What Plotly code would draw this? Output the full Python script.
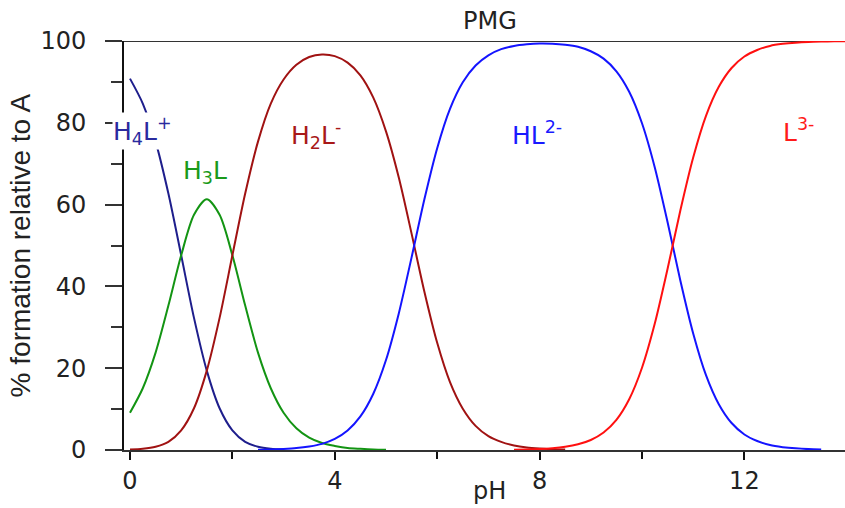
import plotly.graph_objects as go

# ---- data (pH vs % formation) ----
ph_h4l = [0, 0.25, 0.5, 0.75, 1.0, 1.25, 1.5, 1.75, 2.0, 2.25, 2.5, 2.75, 3.0]
h4l = [90.8, 84.7, 75.4, 62.7, 47.6, 32.3, 19.4, 10.2, 4.8, 2.0, 0.8, 0.3, 0.1]

ph_h3l = [0, 0.25, 0.5, 0.75, 1.0, 1.25, 1.5, 1.75, 2.0, 2.25, 2.5, 2.75, 3.0,
          3.25, 3.5, 3.75, 4.0, 4.25, 4.5, 4.75, 5.0]
h3l = [9.1, 15.1, 23.8, 35.3, 47.6, 57.5, 61.3, 57.5, 47.6, 35.3, 23.8, 15.1, 9.1,
       5.3, 3.0, 1.7, 1.0, 0.5, 0.3, 0.15, 0.08]

ph_h2l = [0, 0.25, 0.5, 0.75, 1.0, 1.25, 1.5, 1.75, 2.0, 2.25, 2.5, 2.75, 3.0,
          3.25, 3.5, 3.75, 4.0, 4.25, 4.5, 4.75, 5.0, 5.25, 5.5, 5.75, 6.0,
          6.25, 6.5, 6.75, 7.0, 7.25, 7.5, 7.75, 8.0, 8.25, 8.5]
h2l = [0.1, 0.3, 0.8, 2.0, 4.8, 10.2, 19.4, 32.3, 47.6, 62.7, 75.4, 84.7, 90.6,
       94.2, 96.1, 96.7, 96.3, 94.7, 91.6, 86.2, 77.9, 66.6, 52.9, 38.7, 26.2,
       16.6, 10.1, 5.9, 3.4, 2.0, 1.1, 0.6, 0.35, 0.2, 0.1]

ph_hl = [2.5, 2.75, 3.0, 3.25, 3.5, 3.75, 4.0, 4.25, 4.5, 4.75,
         5.0, 5.25, 5.5, 5.75, 6.0, 6.25, 6.5, 6.75, 7.0, 7.25,
         7.5, 7.75, 8.0, 8.25, 8.5, 8.75, 9.0, 9.25, 9.5, 9.75,
         10.0, 10.25, 10.5, 10.75, 11.0, 11.25, 11.5, 11.75, 12.0, 12.25,
         12.5, 12.75, 13.0, 13.25, 13.5]
hl = [0.07, 0.13, 0.26, 0.47, 0.86, 1.5, 2.7, 4.75, 8.2, 13.7,
      22.0, 33.4, 47.1, 61.3, 73.8, 83.4, 89.9, 94.0, 96.5, 98.0,
      98.8, 99.2, 99.4, 99.35, 99.1, 98.6, 97.5, 95.7, 92.6, 87.6,
      79.9, 69.1, 55.7, 41.4, 28.5, 18.3, 11.2, 6.6, 3.8, 2.2,
      1.2, 0.7, 0.4, 0.22, 0.13]

ph_l = [7.5, 7.75, 8.0, 8.25, 8.5, 8.75, 9.0, 9.25, 9.5, 9.75,
        10.0, 10.25, 10.5, 10.75, 11.0, 11.25, 11.5, 11.75, 12.0, 12.25,
        12.5, 12.75, 13.0, 13.25, 13.5, 13.75, 14.0]
l3 = [0.08, 0.14, 0.25, 0.45, 0.79, 1.39, 2.45, 4.27, 7.36, 12.4,
      20.1, 30.9, 44.3, 58.6, 71.5, 81.7, 88.8, 93.4, 96.2, 97.8,
      98.8, 99.3, 99.6, 99.78, 99.87, 99.93, 99.96]

x_ticks = [0, 4, 8, 12]
x_tick_labels = ["0", "4", "8", "12"]
y_ticks = [0, 20, 40, 60, 80, 100]
y_tick_labels = ["0", "20", "40", "60", "80", "100"]

species = [
    ("H4L+", ph_h4l, h4l, "#1e1e8c"),
    ("H3L", ph_h3l, h3l, "#139413"),
    ("H2L-", ph_h2l, h2l, "#a01212"),
    ("HL2-", ph_hl, hl, "#1414ff"),
    ("L3-", ph_l, l3, "#ff1010"),
]

labels = [
    ("H<sub>4</sub>L<sup>+</sup>", 0.24, 78.0, "#2a2a9e"),
    ("H<sub>3</sub>L", 1.46, 68.0, "#1a9a1a"),
    ("H<sub>2</sub>L<sup>-</sup>", 3.63, 77.0, "#a81818"),
    ("HL<sup>2-</sup>", 7.95, 77.5, "#1a1aff"),
    ("L<sup>3-</sup>", 13.05, 78.0, "#ff1a1a"),
]

fig = go.Figure()
for name, xs, ys, col in species:
    fig.add_trace(go.Scatter(x=xs, y=ys, mode="lines", name=name,
                             line=dict(color=col, width=2, shape="spline", smoothing=0.8),
                             showlegend=False, hoverinfo="skip"))

FONT = "DejaVu Sans"
annots = []
for txt, xv, yv, col in labels:
    annots.append(dict(x=xv, y=yv, xref="x", yref="y", text=txt, showarrow=False,
                       font=dict(family=FONT, size=25, color=col),
                       bgcolor="white", xanchor="center", yanchor="middle", borderpad=0))
annots.append(dict(x=0.5076, y=-0.1, xref="paper", yref="paper", text="pH",
                   showarrow=False, font=dict(family=FONT, size=24, color="#222"),
                   xanchor="center", yanchor="middle", borderpad=0))
annots.append(dict(x=-0.143, y=0.5, xref="paper", yref="paper",
                   text="% formation relative to A", textangle=-90, showarrow=False,
                   font=dict(family="Liberation Sans", size=28, color="#222"),
                   xanchor="center", yanchor="middle"))
annots.append(dict(x=0.5076, y=1.05, xref="paper", yref="paper", text="PMG",
                   showarrow=False, font=dict(family=FONT, size=24, color="#222"),
                   xanchor="center", yanchor="middle"))

fig.update_layout(
    width=845, height=508,
    margin=dict(l=124, r=0, t=41, b=58),
    paper_bgcolor="white", plot_bgcolor="white",
    annotations=annots,
    shapes=[dict(type="line", xref="paper", yref="y", x0=-0.0236, x1=0.979,
                 y0=100, y1=100, line=dict(color="#333", width=2), layer="below")],
    xaxis=dict(range=[-0.117, 13.965], tickvals=x_ticks, ticktext=x_tick_labels,
               ticks="outside", ticklen=8, tickwidth=2, tickcolor="#111",
               minor=dict(tickvals=[2, 6, 10], ticks="outside", ticklen=7, tickwidth=2, tickcolor="#111"),
               showline=True, linecolor="#333", linewidth=2, showgrid=False, zeroline=False,
               tickfont=dict(family=FONT, size=24, color="#222"), ticklabelstandoff=0),
    yaxis=dict(range=[0, 100], tickvals=y_ticks, ticktext=y_tick_labels,
               ticks="outside", ticklen=17, tickwidth=2, tickcolor="#333",
               minor=dict(dtick=10, tick0=0, ticks="outside", ticklen=11, tickwidth=2, tickcolor="#333"),
               showline=True, linecolor="#111", linewidth=2, showgrid=False, zeroline=False,
               tickfont=dict(family=FONT, size=24, color="#222"), ticklabelstandoff=14),
)

fig.write_html("out.html")
